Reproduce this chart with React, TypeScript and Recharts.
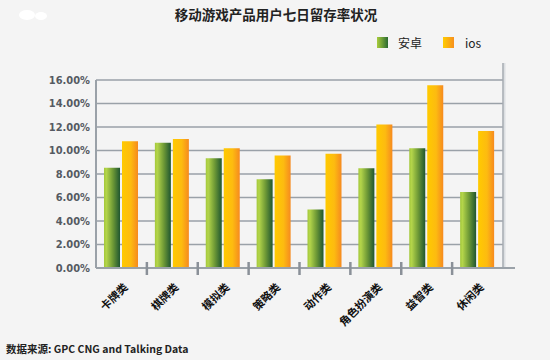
import React from "react";
import { BarChart, Bar, XAxis, YAxis, CartesianGrid, Legend, Customized } from "recharts";

const categories = ["卡牌类", "棋牌类", "模拟类", "策略类", "动作类", "角色扮演类", "益智类", "休闲类"];
const androidValues = [8.53, 10.66, 9.34, 7.55, 4.98, 8.48, 10.19, 6.46];
const iosValues = [10.78, 10.97, 10.2, 9.57, 9.73, 12.22, 15.56, 11.67];
const yTicks = [0, 2, 4, 6, 8, 10, 12, 14, 16];
const seriesNames = ["安卓", "ios"];
const title = "移动游戏产品用户七日留存率状况";
const source = "数据来源: GPC CNG and Talking Data";

const data = categories.map((c, i) => ({ name: c, android: androidValues[i], ios: iosValues[i] }));

const CJK = "'Noto Sans CJK SC', 'Noto Sans', sans-serif";

const XTick = (props: any) => {
  const { x, y, payload, index } = props;
  const band = 407 / categories.length;
  return (
    <g>
      {index < categories.length - 1 && (
        <line x1={x + band / 2} x2={x + band / 2} y1={y - 14} y2={y - 1} stroke="#8a9098" strokeWidth={2.5} />
      )}
      <text
        x={x + 7}
        y={y + 12}
        textAnchor="end"
        transform={`rotate(-45 ${x + 7} ${y + 12})`}
        fontFamily={CJK}
        fontWeight="bold"
        fontSize={11}
        fill="#111"
      >
        {payload.value}
      </text>
    </g>
  );
};

const LegendContent = () => (
  <div style={{ display: "flex", alignItems: "center", fontFamily: CJK, fontSize: 12, color: "#222" }}>
    <div style={{ width: 11, height: 11, background: "linear-gradient(to right, #a8cc3c, #2a6a32)" }} />
    <span style={{ marginLeft: 10, width: 45 }}>{seriesNames[0]}</span>
    <div style={{ width: 11, height: 11, background: "linear-gradient(to right, #ffcc00, #f7901e)" }} />
    <span style={{ marginLeft: 11 }}>{seriesNames[1]}</span>
  </div>
);

export default function App() {
  return (
    <div style={{ position: "absolute", left: 0, top: 0, width: 550, height: 360, background: "#f4f4f4" }}>
      <BarChart
        width={550}
        height={360}
        data={data}
        margin={{ top: 63, right: 47, bottom: 0, left: 0 }}
        barGap={2}
        barSize={16}
      >
        <defs>
          <linearGradient id="gGreen" x1="0" y1="0" x2="1" y2="0">
            <stop offset="0%" stopColor="#a3c83a" />
            <stop offset="15%" stopColor="#b4d54a" />
            <stop offset="55%" stopColor="#6f9a36" />
            <stop offset="100%" stopColor="#1f5630" />
          </linearGradient>
          <linearGradient id="gOrange" x1="0" y1="0" x2="1" y2="0">
            <stop offset="0%" stopColor="#ffca00" />
            <stop offset="55%" stopColor="#fdbb10" />
            <stop offset="100%" stopColor="#f68a1f" />
          </linearGradient>
        </defs>
        <CartesianGrid vertical={false} stroke="#9aa1a8" strokeWidth={1.5} />
        <XAxis
          dataKey="name"
          interval={0}
          tickLine={false}
          axisLine={{ stroke: "#9aa1a8", strokeWidth: 2 }}
          tick={<XTick />}
          height={92}
        />
        <YAxis
          width={96}
          domain={[0, 16]}
          ticks={yTicks}
          interval={0}
          tickLine={false}
          tickSize={4}
          axisLine={{ stroke: "#9aa1a8", strokeWidth: 2 }}
          tickFormatter={(v: number) => `${v.toFixed(2)}%`}
          tick={{ fontFamily: "'Liberation Sans Narrow', 'DejaVu Sans Condensed', sans-serif", fontWeight: "bold", fontSize: 11, fill: "#555a62" }}
        />
        <Legend
          verticalAlign="top"
          content={<LegendContent />}
          wrapperStyle={{ position: "absolute", top: 34, left: 377, width: 150 }}
        />
        <Bar dataKey="android" name={seriesNames[0]} fill="url(#gGreen)" isAnimationActive={false} />
        <Bar dataKey="ios" name={seriesNames[1]} fill="url(#gOrange)" isAnimationActive={false} />
        <Customized
          component={() => (
            <g>
              <line x1={504.5} x2={504.5} y1={63} y2={268} stroke="#dcdfe2" strokeWidth={2} />
              <line x1={503} x2={503} y1={63} y2={268} stroke="#a4aab0" strokeWidth={1.5} />
              <line x1={503} x2={515} y1={268} y2={268} stroke="#9aa1a8" strokeWidth={2} />
              <ellipse cx={27} cy={15} rx={8} ry={5} fill="#ffffff" />
              <ellipse cx={41} cy={16} rx={6} ry={4} fill="#ffffff" />
              <text x={276} y={20} textAnchor="middle" fontFamily={CJK} fontWeight="bold" fontSize={13.5} fill="#222">
                {title}
              </text>
              <text x={6} y={353} fontFamily={CJK} fontWeight="bold" fontSize={10.5} fill="#222">
                {source}
              </text>
            </g>
          )}
        />
      </BarChart>
    </div>
  );
}
